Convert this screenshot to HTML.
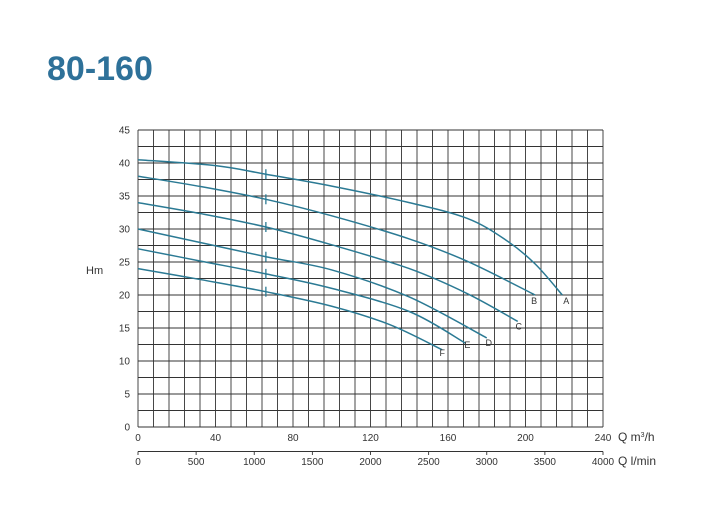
<!DOCTYPE html>
<html><head><meta charset="utf-8"><style>
body{margin:0;background:#fff;width:704px;height:528px;overflow:hidden;font-family:"Liberation Sans",sans-serif}
.t{position:absolute;left:47px;top:50px;font-size:34px;font-weight:bold;color:#2e7199;letter-spacing:0px}
svg{position:absolute;left:0;top:0}
text{font-family:"Liberation Sans",sans-serif;font-size:10px;fill:#333}
</style></head><body>
<div class="t">80-160</div>
<svg id="s" width="704" height="528" viewBox="0 0 704 528"></svg>
<script>
var s=document.getElementById('s'),h='';
var X=q=>138+1.9375*q, Y=v=>427-6.6*v;
for(var i=0;i<=30;i++){var x=138+i*465/30;h+='<line x1="'+x+'" y1="130" x2="'+x+'" y2="427" stroke="#333" stroke-width="0.9"/>';}
for(var j=0;j<=18;j++){var y=130+j*297/18;h+='<line x1="138" y1="'+y+'" x2="603" y2="'+y+'" stroke="#333" stroke-width="0.9"/>';}
for(var v=0;v<=45;v+=5)h+='<text x="130" y="'+(Y(v)+3.5)+'" text-anchor="end">'+v+'</text>';
for(var q=0;q<=240;q+=40){h+='<text x="'+X(q)+'" y="441" text-anchor="middle">'+q+'</text>';}
h+='<line x1="138" y1="451.5" x2="603" y2="451.5" stroke="#333" stroke-width="0.9"/>';
for(var l=0;l<=4000;l+=500){var x=X(l*0.06);h+='<line x1="'+x+'" y1="451.5" x2="'+x+'" y2="455" stroke="#333" stroke-width="0.9"/><text x="'+x+'" y="465" text-anchor="middle">'+l+'</text>';}
h+='<text x="618" y="441" style="font-size:12px">Q m<tspan dy="-4" style="font-size:7px">3</tspan><tspan dy="4">/h</tspan></text>';
h+='<text x="618" y="465" style="font-size:12px">Q l/min</text>';
h+='<text x="86" y="274" style="font-size:11px">Hm</text>';
var C=[
['A',[[0,40.5],[40,39.6],[66,38.3],[100,36.5],[140,34],[170,31.6],[190,28.3],[205,24.7],[219,20]],[4,9]],
['B',[[0,38],[33,36.4],[66,34.5],[100,32],[140,28.5],[170,25.1],[205,20]],[-1,9]],
['C',[[0,34],[33,32.3],[66,30.3],[100,27.6],[140,24],[170,20.2],[196,16]],[1,8]],
['D',[[0,30],[33,27.9],[66,25.8],[100,23.8],[140,19.7],[180,13.5]],[2,8]],
['E',[[0,27],[33,25.1],[66,23.2],[100,21],[140,17.5],[169,12.7]],[2,5]],
['F',[[0,24],[33,22.3],[66,20.5],[100,18.3],[130,15.5],[157,11.7]],[0,6]]];
C.forEach(function(c){var p=c[1].map(a=>[X(a[0]),Y(a[1])]);var d='M'+p[0];
for(var i=0;i<p.length-1;i++){var p0=p[i-1]||p[i],p1=p[i],p2=p[i+1],p3=p[i+2]||p2;
d+=' C'+(p1[0]+(p2[0]-p0[0])/6)+','+(p1[1]+(p2[1]-p0[1])/6)+' '+(p2[0]-(p3[0]-p1[0])/6)+','+(p2[1]-(p3[1]-p1[1])/6)+' '+p2;}
h+='<path d="'+d+'" fill="none" stroke="#2b7a94" stroke-width="1.5"/>';
var m=c[1].find(a=>a[0]==66);h+='<line x1="'+X(66)+'" y1="'+(Y(m[1])-5)+'" x2="'+X(66)+'" y2="'+(Y(m[1])+5)+'" stroke="#2b7a94" stroke-width="1.3"/>';
var e=p[p.length-1];h+='<text x="'+(e[0]+c[2][0])+'" y="'+(e[1]+c[2][1])+'" text-anchor="middle" style="font-size:9px">'+c[0]+'</text>';});
s.innerHTML=h;
</script>
</body></html>
